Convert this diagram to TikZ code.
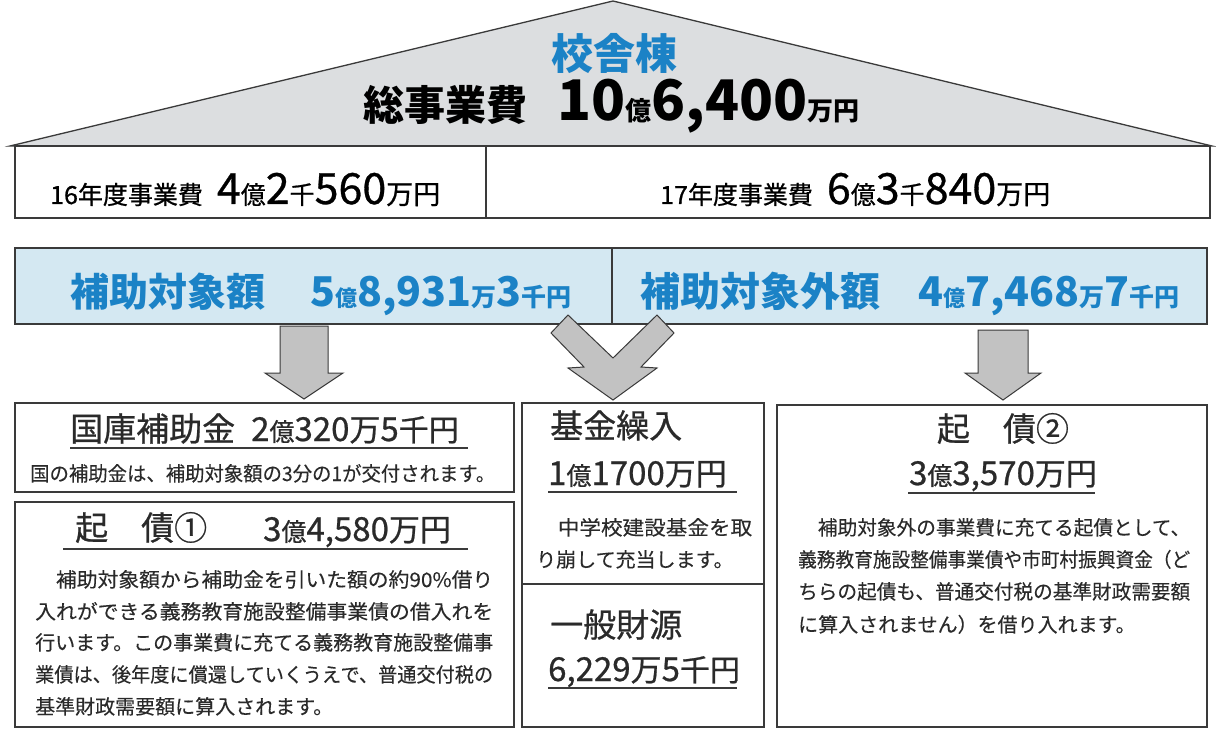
\documentclass[tikz,border=0pt]{standalone}
\usepackage{fontspec}
\setmainfont{Noto Sans CJK JP}
\newfontfamily\jpmed{Noto Sans CJK JP}[FakeBold=0.7]
\newfontfamily\jpbody{Noto Sans CJK JP}[FakeBold=0.2]
\definecolor{roofgray}{HTML}{DCDEE0}
\definecolor{bandblue}{HTML}{D4E8F2}
\definecolor{txtblue}{HTML}{1B82C6}
\definecolor{linegray}{HTML}{3A3A3A}
\definecolor{arrowgray}{HTML}{C2C2C2}
\definecolor{bodytxt}{HTML}{2A2A2A}
\newcommand\fz[2]{{\fontsize{#1}{#1}\selectfont #2}}
\newcommand\fitw[2]{\resizebox{#1}{\height}{#2}}
\tikzset{
  frame/.style={draw=linegray, line width=1.3pt},
  txt/.style={inner sep=0pt, anchor=base west, text=bodytxt},
  ctxt/.style={inner sep=0pt, anchor=base, text=bodytxt},
  blockarrow/.style={draw=linegray, fill=arrowgray, line width=1pt, line join=miter},
  uline/.style={draw=linegray, line width=1.1pt},
  heavy/.style={font=\bfseries},
  med/.style={font=\jpmed},
  bodyfont/.style={font=\jpbody\fontsize{20}{20}\selectfont},
}
\begin{document}
\begin{tikzpicture}[x=1pt,y=-1pt]
\useasboundingbox (0,0) rectangle (1216,730);
\fill[white] (0,0) rectangle (1216,730);
% roof
\coordinate (apex) at (613,1);
\coordinate (roofL) at (10,146);
\coordinate (roofR) at (1212,146);
\draw[frame, fill=roofgray, line join=miter] (roofL) -- (apex) -- (roofR) -- cycle;
\node[ctxt, heavy, text=txtblue] (bldg) at (614,70) {\fz{42}{校舎棟}};
\node[txt, heavy, text=black] (total) at (363,121) {\fz{41}{総事業費}\hspace{30pt}\fz{56}{10}\fz{26}{億}\fz{56}{6,400}\fz{26}{万円}};
% year row
\draw[frame, fill=white] (15,146) rectangle (1210,218);
\draw[frame] (486,146) -- (486,218);
\node[txt, med, text=black] (y16) at (50,204) {\fz{25}{16年度事業費}\hspace{14pt}\fz{43}{4}\fz{25}{億}\fz{43}{2}\fz{25}{千}\fz{43}{560}\fz{27}{万円}};
\node[txt, med, text=black] (y17) at (660,204) {\fz{25}{17年度事業費}\hspace{14pt}\fz{43}{6}\fz{25}{億}\fz{43}{3}\fz{25}{千}\fz{43}{840}\fz{27}{万円}};
% blue band
\draw[frame, fill=bandblue] (15,248) rectangle (1207,324);
\draw[frame] (612,248) -- (612,324);
\node[txt, heavy, text=txtblue] (subL) at (70,306) {\fz{39}{補助対象額}};
\node[txt, heavy, text=txtblue] (subLamt) at (310,306) {\fz{41}{5}\fz{22}{億}\fz{41}{8,931}\fz{25}{万}\fz{41}{3}\fz{25}{千円}};
\node[txt, heavy, text=txtblue] (subR) at (640,306) {\fz{40}{補助対象外額}};
\node[txt, heavy, text=txtblue] (subRamt) at (918,306) {\fz{41}{4}\fz{22}{億}\fz{41}{7,468}\fz{25}{万}\fz{41}{7}\fz{25}{千円}};
% arrows
\draw[blockarrow] (280,326) -- (328,326) -- (328,373) -- (343,373) -- (304,399) -- (265,373) -- (280,373) -- cycle;
\draw[blockarrow] (978,330) -- (1028,330) -- (1028,373) -- (1041,373) -- (1003,400) -- (965,373) -- (978,373) -- cycle;
\draw[blockarrow] (568,315) -- (613,358) -- (657,315) -- (674,333) -- (641,367) -- (657,368) -- (613,400) -- (568,368) -- (584,367) -- (551,333) -- cycle;
% left top box
\draw[frame] (15,403) rectangle (514,492);
\node[txt, med] (hojo) at (70,441) {\fz{33}{国庫補助金}};
\node[txt, med] (hojoamt) at (251,441) {\fz{33}{2}\fz{25}{億}\fz{33}{320}\fz{31}{万}\fz{33}{5}\fz{30}{千円}};
\draw[uline] (70,448) -- (468,448);
\node[txt, bodyfont] (hojonote) at (30,481) {\fitw{465pt}{国の補助金は、補助対象額の3分の1が交付されます。}};
% left bottom box
\draw[frame] (15,502) rectangle (514,727);
\node[txt, med] (kisai1) at (75,540) {\fz{33}{起　債①}};
\node[txt, med] (kisai1amt) at (263,541) {\fz{33}{3}\fz{25}{億}\fz{33}{4,580}\fz{31}{万円}};
\draw[uline] (63,549) -- (468,549);
\node[txt, bodyfont] (k1a) at (35,587) {\fitw{458pt}{　補助対象額から補助金を引いた額の約90\%借り}};
\node[txt, bodyfont] (k1b) at (35,619) {\fitw{458pt}{入れができる義務教育施設整備事業債の借入れを}};
\node[txt, bodyfont] (k1c) at (35,650) {\fitw{458pt}{行います。この事業費に充てる義務教育施設整備事}};
\node[txt, bodyfont] (k1d) at (35,682) {\fitw{458pt}{業債は、後年度に償還していくうえで、普通交付税の}};
\node[txt, bodyfont] (k1e) at (35,714) {基準財政需要額に算入されます。};
% middle box
\draw[frame] (522,403) rectangle (764,727);
\draw[frame] (522,584) -- (764,584);
\node[txt, med] (kikin) at (550,438) {\fz{33}{基金繰入}};
\node[txt, med] (kikinamt) at (548,485) {\fz{33}{1}\fz{25}{億}\fz{33}{1700}\fz{31}{万円}};
\draw[uline] (548,492) -- (737,492);
\node[txt, bodyfont] (kk1) at (536,535) {\fitw{216pt}{　中学校建設基金を取}};
\node[txt, bodyfont] (kk2) at (536,567) {り崩して充当します。};
\node[txt, med] (ippan) at (550,637) {\fz{33}{一般財源}};
\node[txt, med] (ippanamt) at (548,681) {\fz{33}{6,229}\fz{31}{万}\fz{33}{5}\fz{30}{千円}};
\draw[uline] (548,688) -- (737,688);
% right box
\draw[frame] (777,405) rectangle (1207,727);
\node[ctxt, med] (kisai2) at (1003,441) {\fz{33}{起　債②}};
\node[ctxt, med] (kisai2amt) at (1003,485) {\fz{33}{3}\fz{25}{億}\fz{33}{3,570}\fz{31}{万円}};
\draw[uline] (908,493) -- (1095,493);
\node[txt, bodyfont] (k2a) at (798,535) {\fitw{392pt}{　補助対象外の事業費に充てる起債として、}};
\node[txt, bodyfont] (k2b) at (798,567) {\fitw{392pt}{義務教育施設整備事業債や市町村振興資金（ど}};
\node[txt, bodyfont] (k2c) at (798,599) {\fitw{392pt}{ちらの起債も、普通交付税の基準財政需要額}};
\node[txt, bodyfont] (k2d) at (798,632) {に算入されません）を借り入れます。};
\end{tikzpicture}
\end{document}
